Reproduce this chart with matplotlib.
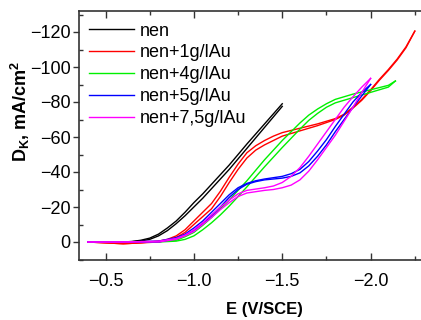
import matplotlib
matplotlib.use('Agg')
import matplotlib.pyplot as plt
from matplotlib.ticker import MultipleLocator

# potentials (V vs SCE) and the two branches of each sweep (mA/cm2)
nen_x = [-0.40, -0.50, -0.60, -0.65, -0.70, -0.75, -0.80, -0.85, -0.90, -0.95, -1.00,
         -1.05, -1.10, -1.15, -1.20, -1.30, -1.40, -1.50]
nen_fwd = [0, 0, 0, -0.3, -1, -2.2, -4.5, -8, -12, -17, -22.5,
           -27.5, -33, -38.5, -44, -56, -67.5, -79]
nen_rev = [0, 0, 0, -0.2, -0.6, -1.5, -3.5, -6.5, -10.5, -15, -20,
           -25, -30.5, -36, -41.5, -53.5, -65.5, -77.5]

au1_x = [-0.40, -0.50, -0.60, -0.70, -0.80, -0.85, -0.90, -0.95, -1.00, -1.05, -1.10,
         -1.15, -1.20, -1.25, -1.30, -1.35, -1.40, -1.45, -1.50, -1.60, -1.70, -1.80,
         -1.85, -1.90, -1.95, -2.00, -2.05, -2.10, -2.15, -2.20, -2.25]
au1_fwd = [0, 0.5, 1, 0.5, -0.5, -1.5, -3.5, -7, -12, -17, -22,
           -29, -37, -44.5, -51, -55, -58, -60.5, -62.5, -65, -67.5, -70.5,
           -73, -77, -81.5, -87, -93, -98.5, -104.5, -111.5, -120.5]
au1_rev = [0, 0.5, 1, 0.5, 0, -1, -2.5, -5.5, -10, -14.5, -19,
           -26, -34, -41.5, -48, -52.5, -55.5, -58, -60.5, -63.5, -66.5, -70,
           -72.5, -76.5, -81, -86.5, -92.5, -98, -104, -111, -120.5]

au4_x = [-0.40, -0.60, -0.80, -0.90, -0.95, -1.00, -1.05, -1.10, -1.15, -1.20, -1.25,
         -1.30, -1.40, -1.50, -1.60, -1.65, -1.70, -1.75, -1.80, -1.85, -1.90, -2.00,
         -2.10, -2.14]
au4_fwd = [0, 0, -0.3, -1, -3, -5.5, -9.5, -14, -19, -24, -29.5,
           -35, -47, -58, -68, -72.5, -76, -79, -81.5, -83, -84.5, -87,
           -89.5, -92]
au4_rev = [0, 0, 0, -0.5, -1.5, -3.5, -7, -11, -15.5, -20.5, -26,
           -31.5, -43, -54, -64.5, -69.5, -73.5, -77, -79.5, -81, -82.5, -85.5,
           -88.5, -92]

au5_x = [-0.40, -0.60, -0.80, -0.90, -0.95, -1.00, -1.05, -1.10, -1.15, -1.20, -1.25,
         -1.30, -1.35, -1.40, -1.50, -1.55, -1.60, -1.65, -1.70, -1.75, -1.80, -1.85,
         -1.90, -1.95, -2.00]
au5_fwd = [0, 0, -0.5, -2.5, -4.5, -8, -12, -17, -22, -27, -31,
           -33.5, -35, -36, -37.5, -39, -41.5, -46, -52, -58.5, -66, -73,
           -80, -85.5, -90]
au5_rev = [0, 0, 0, -2, -4, -6.5, -10.5, -15, -20, -25.5, -30,
           -33, -34.5, -35.5, -36.5, -37.5, -39.5, -43.5, -49, -55.5, -63, -70,
           -77, -83.5, -90]

au75_x = [-0.40, -0.60, -0.80, -0.90, -0.95, -1.00, -1.05, -1.10, -1.15, -1.20, -1.25,
          -1.30, -1.40, -1.45, -1.50, -1.55, -1.60, -1.65, -1.70, -1.75, -1.80, -1.85,
          -1.90, -1.95, -2.00]
au75_fwd = [0, 0, -0.5, -2, -4, -7, -11, -15.5, -20, -24, -27.5,
            -29.5, -31, -32, -34, -37.5, -42.5, -49, -56, -63, -70, -77,
            -83, -88.5, -93.5]
au75_rev = [0, 0, 0, -1.5, -3.5, -6, -10, -14, -18.5, -22.5, -26,
            -28, -29.5, -30, -31, -32.5, -35.5, -40.5, -47, -54, -61, -69,
            -77, -85.5, -93.5]

labels = ['nen', 'nen+1g/lAu', 'nen+4g/lAu', 'nen+5g/lAu', 'nen+7,5g/lAu']
colors = ['black', '#ff0000', '#00f000', '#0000ff', '#ff00ff']

plt.rcParams['font.family'] = 'Liberation Sans'
plt.rcParams['mathtext.fontset'] = 'custom'
plt.rcParams['mathtext.rm'] = 'Liberation Sans'
plt.rcParams['mathtext.bf'] = 'Liberation Sans:bold'

fig = plt.figure(figsize=(4.21, 3.2), dpi=100)
ax = fig.add_axes([79 / 421, 1 - 259.5 / 320, 342 / 421, 248.5 / 320])

curves = [(nen_x, nen_fwd, nen_rev), (au1_x, au1_fwd, au1_rev), (au4_x, au4_fwd, au4_rev),
          (au5_x, au5_fwd, au5_rev), (au75_x, au75_fwd, au75_rev)]
for (x, fwd, rev), lab, col in zip(curves, labels, colors):
    ax.plot(x, fwd, color=col, lw=1.0, label=lab)
    ax.plot(x, rev, color=col, lw=1.0)

ax.set_xlim(-0.35, -2.285)
ax.set_ylim(10, -132)
ax.xaxis.set_major_locator(MultipleLocator(0.5))
ax.xaxis.set_minor_locator(MultipleLocator(0.25))
ax.yaxis.set_major_locator(MultipleLocator(20))
ax.yaxis.set_minor_locator(MultipleLocator(10))

ax.spines['right'].set_visible(False)
for s in ['left', 'bottom', 'top']:
    ax.spines[s].set_linewidth(1.2)
    ax.spines[s].set_color('#333333')

ax.tick_params(axis='x', which='major', direction='in', length=5, width=1, top=True,
               labelsize=13, pad=10, color='#333333')
ax.tick_params(axis='x', which='minor', direction='in', length=3, width=1, top=True, color='#333333')
ax.tick_params(axis='y', which='major', direction='out', length=4, width=1, right=False,
               labelsize=13, pad=2, color='#333333')
ax.tick_params(axis='y', which='minor', direction='in', length=3, width=1, right=False, color='#333333')

ax.set_xlabel('E (V/SCE)', fontsize=12, fontweight='bold')
ax.xaxis.set_label_coords(0.541, -0.17)
ax.set_ylabel(r'D$_\mathbf{K}$, mA/cm$^\mathbf{2}$', fontsize=13, fontweight='bold')
ax.yaxis.set_label_coords(-0.138, 0.598)

ax.legend(loc='upper left', bbox_to_anchor=(0.018, 0.968), frameon=False, fontsize=13,
          handlelength=2.5, handletextpad=0.35, labelspacing=0.27, borderpad=0.2,
          borderaxespad=0.0)

fig.savefig('out.png', dpi=100)
